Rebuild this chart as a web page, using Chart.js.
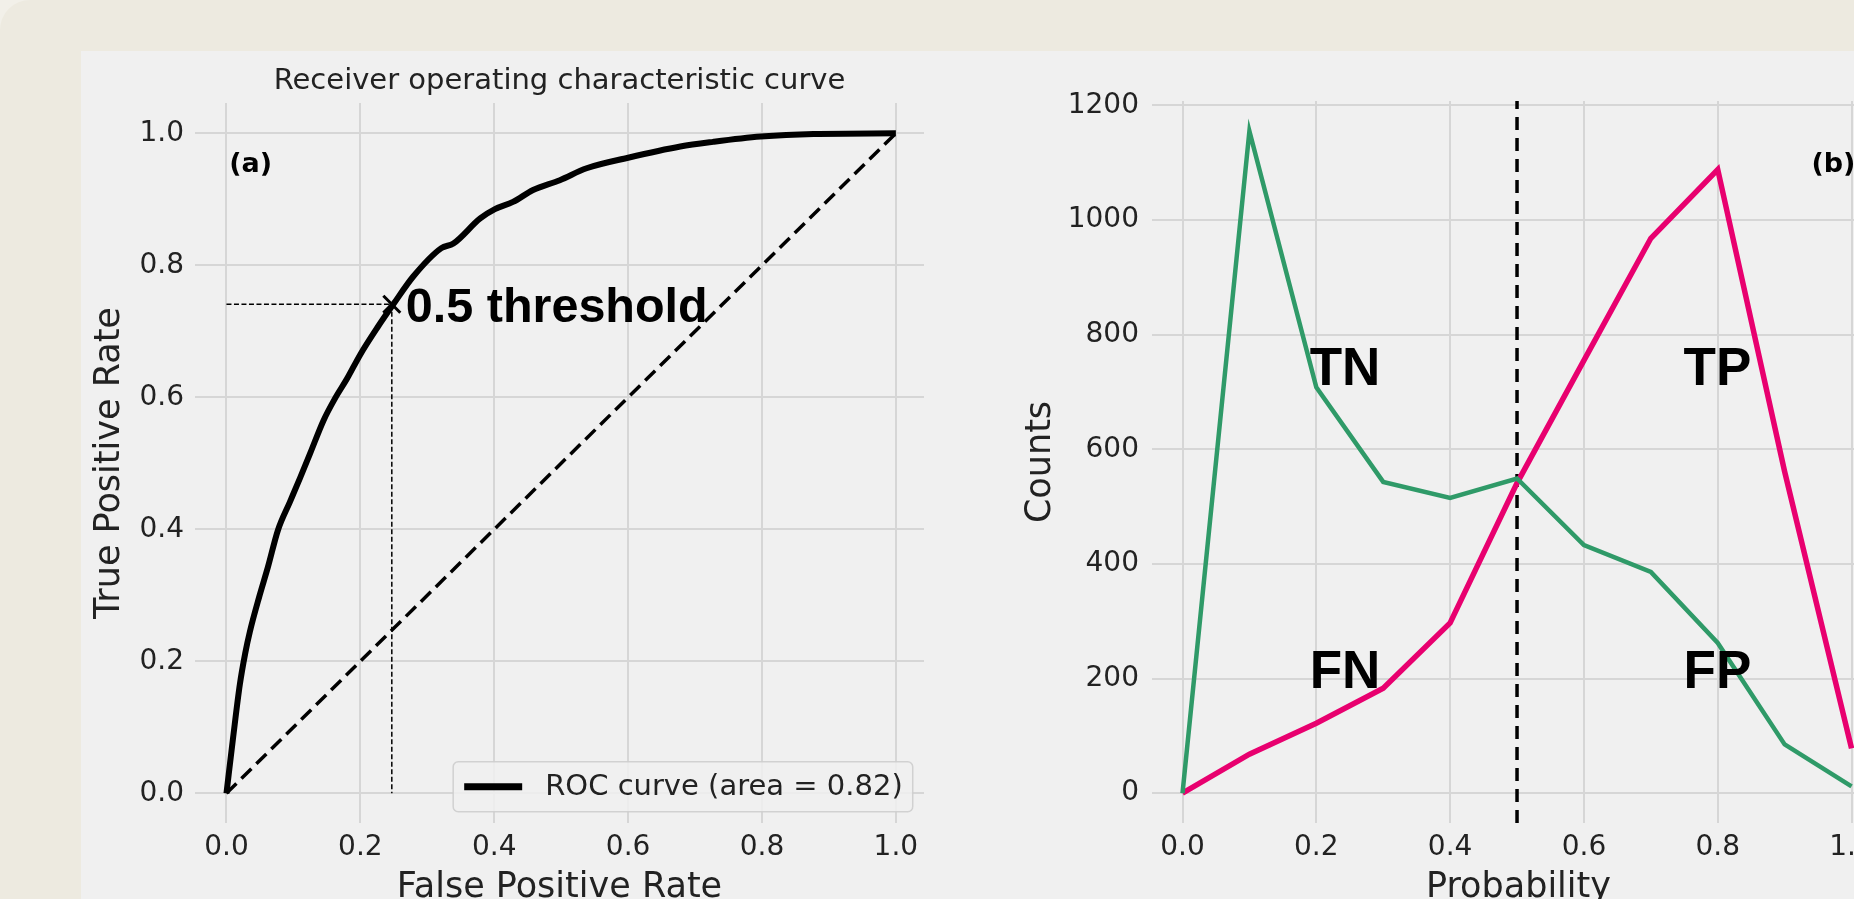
<!DOCTYPE html>
<html><head><meta charset="utf-8">
<script src="https://cdn.jsdelivr.net/npm/chart.js@4.4.1/dist/chart.umd.min.js"></script>
<style>
html,body{margin:0;padding:0;width:1854px;height:899px;overflow:hidden;background:#f2f0e9;}
#bg{position:absolute;left:0;top:0;width:1900px;height:950px;background:#edeae0;border-top-left-radius:30px;}
#panel{position:absolute;left:81px;top:51px;width:1773px;height:848px;background:#f0f0f0;}
.wrap{position:absolute;top:0;height:910px;}
</style></head><body>
<div id="bg"></div>
<div id="panel"></div>
<div class="wrap" style="left:0;width:960px"><canvas id="c1"></canvas></div>
<div class="wrap" style="left:960px;width:930px"><canvas id="c2"></canvas></div>
<script>
// ---- data ----
const rocFpr = [0,0.010,0.020,0.028,0.035,0.049,0.062,0.077,0.095,0.110,0.125,0.145,0.162,0.180,0.200,0.225,0.250,0.279,0.321,0.339,0.379,0.401,0.428,0.458,0.498,0.538,0.600,0.678,0.727,0.798,0.877,1.0];
const rocTpr = [0,0.085,0.165,0.212,0.245,0.298,0.343,0.399,0.442,0.478,0.515,0.565,0.598,0.628,0.665,0.705,0.742,0.783,0.826,0.833,0.871,0.885,0.896,0.914,0.929,0.947,0.963,0.980,0.987,0.995,0.999,1.0];
const chanceX = [0, 1];
const chanceY = [0, 1];
const thresholdFpr = 0.247;
const thresholdTpr = 0.741;
const rateTicks = [0, 0.2, 0.4, 0.6, 0.8, 1.0];
const rateTickLabels = ['0.0','0.2','0.4','0.6','0.8','1.0'];

const probBins = [0,0.1,0.2,0.3,0.4,0.5,0.6,0.7,0.8,0.9,1.0];
const negCounts = [0,1155,708,543,515,549,433,386,262,85,12];
const posCounts = [0,68,122,183,297,541,755,968,1088,561,78];
const decisionThreshold = 0.5;
const countTicks = [0,200,400,600,800,1000,1200];
const countTickLabels = ['0','200','400','600','800','1000','1200'];
const probTicks = [0,0.2,0.4,0.6,0.8,1.0];
const probTickLabels = ['0.0','0.2','0.4','0.6','0.8','1.0'];

// ---- helpers ----
const pts = (xs, ys) => xs.map((x, i) => ({x: x, y: ys[i]}));
Chart.defaults.font.family = '"DejaVu Sans", sans-serif';
Chart.defaults.animation = false;

const notesPlugin = {
  id: 'notes',
  afterDatasetsDraw(chart, args, opts) {
    const {ctx} = chart; const xs = chart.scales.x, ys = chart.scales.y;
    (opts.items || []).forEach(it => {
      ctx.save();
      ctx.font = it.font; ctx.fillStyle = it.color || '#000';
      ctx.textAlign = 'left'; ctx.textBaseline = 'alphabetic';
      ctx.fillText(it.text, xs.getPixelForValue(it.x), ys.getPixelForValue(it.y));
      ctx.restore();
    });
  }
};
const boxLegend = {
  id: 'boxLegend',
  afterDraw(chart, args, opts) {
    if (!opts.show) return;
    const {ctx, chartArea} = chart;
    const ds = chart.data.datasets[0];
    ctx.save();
    ctx.font = '29px "DejaVu Sans"';
    const tw = ctx.measureText(ds.label).width;
    const h = 50, lineLen = 58, gap = 23, padL = 11, padR = 10;
    const w = padL + lineLen + gap + tw + padR;
    const right = chartArea.right - 11.3, bottom = chartArea.bottom - 11.3;
    const left = right - w, top = bottom - h;
    ctx.beginPath();
    if (ctx.roundRect) ctx.roundRect(left, top, w, h, 5); else ctx.rect(left, top, w, h);
    ctx.fillStyle = 'rgba(240,240,240,0.85)'; ctx.fill();
    ctx.strokeStyle = 'rgba(205,205,205,0.9)'; ctx.lineWidth = 1.5; ctx.stroke();
    const cy = top + h / 2;
    ctx.beginPath(); ctx.moveTo(left + padL, cy); ctx.lineTo(left + padL + lineLen, cy);
    ctx.strokeStyle = ds.borderColor; ctx.lineWidth = 7; ctx.stroke();
    ctx.fillStyle = '#222'; ctx.textBaseline = 'middle'; ctx.textAlign = 'left';
    ctx.fillText(ds.label, left + padL + lineLen + gap, cy + 1);
    ctx.restore();
  }
};

const gridOpt = {color: '#d6d6d6', lineWidth: 2, drawTicks: false};
const tickFont = {size: 28};
const axisFont = {size: 35};

// ---- left chart: ROC ----
new Chart(document.getElementById('c1'), {
  type: 'scatter',
  data: {datasets: [
    {label: 'ROC curve (area = 0.82)', data: pts(rocFpr, rocTpr), showLine: true, borderColor: '#000', borderWidth: 6, pointRadius: 0, cubicInterpolationMode: 'monotone', borderJoinStyle: 'round'},
    {label: 'chance', data: pts(chanceX, chanceY), showLine: true, borderColor: '#000', borderWidth: 3.5, borderDash: [14, 7], pointRadius: 0},
    {label: 'thrH', data: pts([0, thresholdFpr], [thresholdTpr, thresholdTpr]), showLine: true, borderColor: '#000', borderWidth: 1.5, borderDash: [5, 2.5], pointRadius: 0},
    {label: 'thrV', data: pts([thresholdFpr, thresholdFpr], [thresholdTpr, 0]), showLine: true, borderColor: '#000', borderWidth: 1.5, borderDash: [5, 2.5], pointRadius: 0},
    {label: 'thrPoint', data: pts([thresholdFpr], [thresholdTpr]), showLine: false, pointStyle: 'crossRot', pointRadius: 12, borderWidth: 3, borderColor: '#000', backgroundColor: '#000'}
  ]},
  options: {
    responsive: true, maintainAspectRatio: false,
    layout: {padding: {left: 80, right: 36, top: 50, bottom: 0.6}},
    plugins: {
      legend: {display: false}, tooltip: {enabled: false},
      title: {display: true, fullSize: false, text: 'Receiver operating characteristic curve', color: '#222', font: {size: 29, weight: 'normal'}, padding: {top: 13.6, bottom: 4.6}},
      boxLegend: {show: true},
      notes: {items: [
        {text: '0.5 threshold', x: 0.268, y: 0.7145, font: 'bold 48.5px "Liberation Sans"'},
        {text: '(a)', x: 0.004, y: 0.942, font: 'bold 27px "DejaVu Sans"'}
      ]}
    },
    scales: {
      x: {type: 'linear', min: -0.047, max: 1.042,
        afterBuildTicks: s => { s.ticks = rateTicks.map(v => ({value: v})); },
        afterFit: s => { s.height = 86.4; s.paddingLeft = 0; s.paddingRight = 0; },
        grid: gridOpt, border: {display: false},
        ticks: {padding: 8, color: '#222', font: tickFont, maxRotation: 0, autoSkip: false, callback: (v, i) => rateTickLabels[i]},
        title: {display: true, text: 'False Positive Rate', color: '#222', font: axisFont, padding: {top: 0, bottom: 0}}
      },
      y: {type: 'linear', min: -0.045, max: 1.0459,
        afterBuildTicks: s => { s.ticks = rateTicks.map(v => ({value: v})); },
        afterFit: s => { s.width = 115; s.paddingTop = 0; s.paddingBottom = 0; },
        grid: gridOpt, border: {display: false},
        ticks: {padding: 11, color: '#222', font: tickFont, autoSkip: false, callback: (v, i) => rateTickLabels[i]},
        title: {display: true, text: 'True Positive Rate', color: '#222', font: axisFont, padding: {top: 8.6, bottom: 0}}
      }
    }
  },
  plugins: [notesPlugin, boxLegend]
});

// ---- right chart: probability distributions ----
new Chart(document.getElementById('c2'), {
  type: 'scatter',
  data: {datasets: [
    {label: 'negatives', data: pts(probBins, negCounts), showLine: true, borderColor: '#2f9a68', borderWidth: 4.5, pointRadius: 0, tension: 0},
    {label: 'positives', data: pts(probBins, posCounts), showLine: true, borderColor: '#e8006f', borderWidth: 5.5, pointRadius: 0, tension: 0},
    {label: 'threshold', data: pts([decisionThreshold, decisionThreshold], [-52, 1207.5]), showLine: true, borderColor: '#000', borderWidth: 3.5, borderDash: [13, 8], pointRadius: 0}
  ]},
  options: {
    responsive: true, maintainAspectRatio: false,
    layout: {padding: {left: 50, right: 5, top: 101, bottom: 0.6}},
    plugins: {
      legend: {display: false}, tooltip: {enabled: false},
      notes: {items: [
        {text: 'TN', x: 0.19, y: 712, font: 'bold 53px "Liberation Sans"'},
        {text: 'FN', x: 0.19, y: 183, font: 'bold 53px "Liberation Sans"'},
        {text: 'TP', x: 0.749, y: 712, font: 'bold 53px "Liberation Sans"'},
        {text: 'FP', x: 0.749, y: 183, font: 'bold 53px "Liberation Sans"'},
        {text: '(b)', x: 0.94, y: 1084, font: 'bold 27px "DejaVu Sans"'}
      ]}
    },
    scales: {
      x: {type: 'linear', min: -0.0456, max: 1.05,
        afterBuildTicks: s => { s.ticks = probTicks.map(v => ({value: v})); },
        afterFit: s => { s.height = 86.4; s.paddingLeft = 0; s.paddingRight = 0; },
        grid: gridOpt, border: {display: false},
        ticks: {padding: 8, color: '#222', font: tickFont, maxRotation: 0, autoSkip: false, callback: (v, i) => probTickLabels[i]},
        title: {display: true, text: 'Probability', color: '#222', font: axisFont, padding: {top: 0, bottom: 0}}
      },
      y: {type: 'linear', min: -52, max: 1207.5,
        afterBuildTicks: s => { s.ticks = countTicks.map(v => ({value: v})); },
        afterFit: s => { s.width = 142; s.paddingTop = 0; s.paddingBottom = 0; },
        grid: gridOpt, border: {display: false},
        ticks: {padding: 13, color: '#222', font: tickFont, autoSkip: false, callback: (v, i) => countTickLabels[i]},
        title: {display: true, text: 'Counts', color: '#222', font: axisFont, padding: {top: 10.2, bottom: 0}}
      }
    }
  },
  plugins: [notesPlugin]
});
</script>
</body></html>
